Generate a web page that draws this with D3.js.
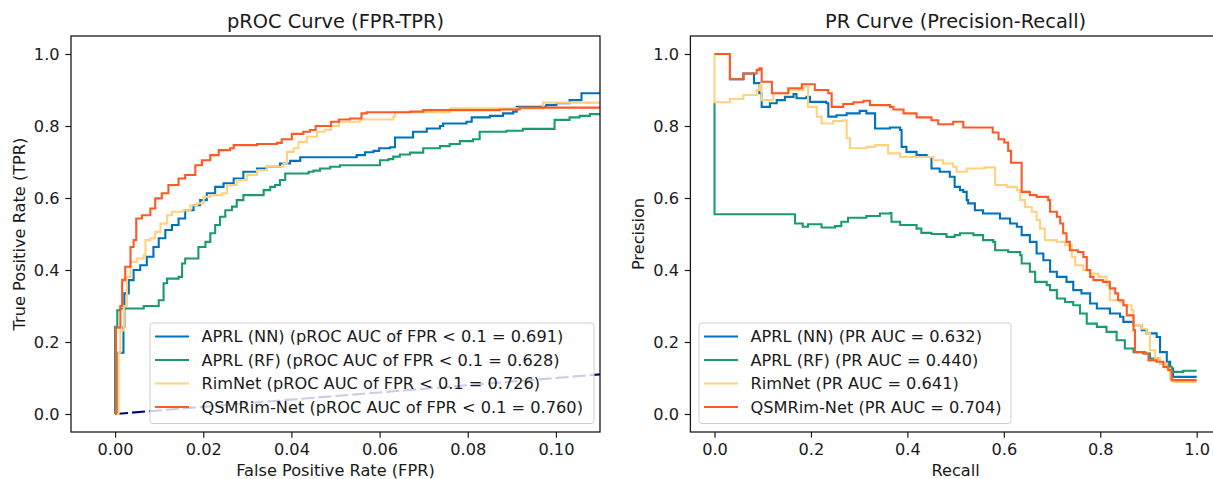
<!DOCTYPE html>
<html>
<head>
<meta charset="utf-8">
<script src="https://cdn.jsdelivr.net/npm/d3@7"></script>
<style>
  body { margin: 0; background: #fff; }
  svg { display: block; font-family: "DejaVu Sans", sans-serif; }
</style>
</head>
<body>
<div id="chart"></div>
<script>
// ---- data ----
var seriesNames = ["APRL (NN)", "APRL (RF)", "RimNet", "QSMRim-Net"];
var seriesColors = ["#0072BD", "#1B9A6C", "#FFD27F", "#FF5A26"];
var rocAuc = ["0.691", "0.628", "0.726", "0.760"];
var prAuc = ["0.632", "0.440", "0.641", "0.704"];

var rocTicksX = [0, 0.02, 0.04, 0.06, 0.08, 0.10];
var prTicksX = [0, 0.2, 0.4, 0.6, 0.8, 1.0];
var ticksY = [0, 0.2, 0.4, 0.6, 0.8, 1.0];

// pROC curves, [fpr, tpr]
var rocNN = [[0,0],[0.0004,0.17],[0.0019,0.242],[0.0021,0.335],[0.0031,0.372],[0.0042,0.40],[0.0057,0.413],[0.0072,0.437],[0.0087,0.464],[0.0099,0.488],[0.0114,0.511],[0.0129,0.525],[0.0144,0.543],[0.0159,0.566],[0.0178,0.580],[0.0193,0.594],[0.0208,0.613],[0.0227,0.631],[0.0246,0.641],[0.0269,0.654],[0.0291,0.673],[0.0322,0.682],[0.0344,0.687],[0.0374,0.696],[0.0397,0.703],[0.0420,0.713],[0.0548,0.719],[0.0567,0.727],[0.0586,0.731],[0.0599,0.738],[0.0624,0.741],[0.0635,0.768],[0.0676,0.784],[0.0707,0.793],[0.0737,0.80],[0.0744,0.807],[0.0797,0.812],[0.0809,0.824],[0.0850,0.828],[0.0880,0.835],[0.0903,0.840],[0.0911,0.853],[0.0978,0.858],[0.1001,0.863],[0.1031,0.872],[0.1058,0.891],[0.110,0.895]];
var rocRF = [[0,0],[0,0.242],[0.0005,0.288],[0.0012,0.293],[0.0065,0.30],[0.0099,0.316],[0.0110,0.363],[0.0118,0.376],[0.0144,0.381],[0.0152,0.418],[0.0159,0.432],[0.0189,0.464],[0.0205,0.478],[0.0216,0.502],[0.0227,0.525],[0.0238,0.548],[0.0250,0.566],[0.0265,0.576],[0.0276,0.594],[0.0291,0.608],[0.0337,0.622],[0.0352,0.631],[0.0363,0.636],[0.0374,0.650],[0.0386,0.668],[0.0439,0.673],[0.0450,0.676],[0.0465,0.682],[0.0488,0.687],[0.0510,0.691],[0.0601,0.705],[0.0620,0.708],[0.0631,0.715],[0.0646,0.721],[0.0669,0.726],[0.0699,0.738],[0.0737,0.744],[0.0759,0.750],[0.0782,0.758],[0.0812,0.763],[0.0827,0.784],[0.0888,0.787],[0.0925,0.792],[0.0997,0.817],[0.1031,0.824],[0.1054,0.828],[0.1077,0.833],[0.110,0.833]];
var rocRim = [[0,0],[0.0008,0.172],[0.0012,0.232],[0.0020,0.30],[0.0027,0.381],[0.0035,0.423],[0.0050,0.432],[0.0065,0.441],[0.0069,0.483],[0.0080,0.488],[0.0091,0.506],[0.0103,0.529],[0.0118,0.552],[0.0129,0.562],[0.0155,0.566],[0.0171,0.580],[0.0186,0.585],[0.0201,0.603],[0.0216,0.608],[0.0242,0.613],[0.0254,0.636],[0.0276,0.650],[0.0299,0.664],[0.0322,0.677],[0.0344,0.687],[0.0382,0.696],[0.0390,0.728],[0.0405,0.738],[0.0416,0.756],[0.0435,0.770],[0.0458,0.784],[0.0476,0.789],[0.0490,0.800],[0.0508,0.812],[0.0556,0.818],[0.0631,0.826],[0.0635,0.838],[0.0760,0.849],[0.0971,0.865],[0.110,0.867]];
var rocQSM = [[0,0],[0.0002,0.24],[0.0012,0.30],[0.0016,0.372],[0.0023,0.409],[0.0035,0.464],[0.0042,0.483],[0.0048,0.543],[0.0061,0.552],[0.0080,0.571],[0.0091,0.599],[0.0106,0.613],[0.0121,0.636],[0.0144,0.654],[0.0159,0.664],[0.0182,0.691],[0.0197,0.705],[0.0216,0.719],[0.0235,0.733],[0.0261,0.738],[0.0269,0.747],[0.0322,0.750],[0.0367,0.753],[0.0378,0.763],[0.0401,0.778],[0.0427,0.784],[0.0442,0.789],[0.0455,0.800],[0.0490,0.812],[0.0508,0.818],[0.0533,0.821],[0.0559,0.835],[0.0571,0.838],[0.0669,0.840],[0.0699,0.844],[0.0873,0.846],[0.0918,0.851],[0.110,0.853]];
var chanceLine = [[0,0],[1,1]];

// PR curves, [recall, precision]
var prNN = [[0,1.0],[0.032,0.93],[0.060,0.946],[0.082,0.919],[0.093,0.891],[0.0978,0.853],[0.115,0.863],[0.129,0.872],[0.146,0.881],[0.164,0.889],[0.170,0.877],[0.191,0.881],[0.198,0.867],[0.232,0.863],[0.236,0.826],[0.253,0.830],[0.274,0.835],[0.301,0.842],[0.315,0.835],[0.333,0.793],[0.364,0.796],[0.385,0.789],[0.388,0.742],[0.398,0.728],[0.419,0.719],[0.440,0.714],[0.450,0.682],[0.467,0.673],[0.488,0.659],[0.498,0.631],[0.509,0.622],[0.516,0.617],[0.523,0.594],[0.526,0.585],[0.540,0.566],[0.557,0.557],[0.592,0.543],[0.613,0.529],[0.627,0.520],[0.637,0.497],[0.654,0.478],[0.668,0.446],[0.682,0.427],[0.696,0.395],[0.710,0.381],[0.730,0.367],[0.744,0.344],[0.761,0.335],[0.779,0.307],[0.793,0.293],[0.820,0.279],[0.841,0.270],[0.848,0.256],[0.869,0.247],[0.886,0.233],[0.896,0.224],[0.917,0.214],[0.924,0.172],[0.938,0.145],[0.945,0.126],[0.951,0.103],[1.0,0.103]];
var prRF = [[0,0.865],[0,0.555],[0.167,0.529],[0.183,0.520],[0.194,0.527],[0.222,0.518],[0.250,0.522],[0.263,0.534],[0.277,0.545],[0.315,0.550],[0.343,0.557],[0.364,0.558],[0.367,0.534],[0.385,0.525],[0.419,0.515],[0.429,0.503],[0.450,0.50],[0.481,0.492],[0.498,0.497],[0.509,0.502],[0.537,0.497],[0.557,0.483],[0.578,0.478],[0.582,0.455],[0.609,0.450],[0.634,0.441],[0.637,0.418],[0.654,0.395],[0.665,0.367],[0.689,0.358],[0.696,0.344],[0.710,0.321],[0.727,0.311],[0.744,0.302],[0.758,0.279],[0.772,0.251],[0.793,0.242],[0.813,0.228],[0.834,0.205],[0.851,0.182],[0.869,0.172],[0.889,0.168],[0.903,0.154],[0.924,0.140],[0.941,0.131],[0.948,0.117],[0.972,0.120],[1.0,0.120]];
var prRim = [[0,1.0],[0,0.866],[0.032,0.875],[0.0598,0.886],[0.0874,0.90],[0.093,0.914],[0.0978,0.872],[0.122,0.891],[0.153,0.90],[0.184,0.909],[0.194,0.853],[0.212,0.826],[0.222,0.807],[0.246,0.814],[0.267,0.816],[0.274,0.766],[0.281,0.738],[0.315,0.742],[0.333,0.747],[0.360,0.724],[0.385,0.714],[0.454,0.705],[0.474,0.696],[0.495,0.687],[0.502,0.673],[0.523,0.682],[0.560,0.685],[0.582,0.636],[0.606,0.631],[0.627,0.622],[0.634,0.594],[0.644,0.575],[0.658,0.562],[0.668,0.539],[0.675,0.515],[0.685,0.483],[0.710,0.478],[0.727,0.469],[0.741,0.436],[0.748,0.413],[0.765,0.40],[0.779,0.390],[0.796,0.381],[0.813,0.358],[0.820,0.316],[0.841,0.311],[0.848,0.302],[0.865,0.288],[0.869,0.247],[0.886,0.237],[0.896,0.224],[0.903,0.177],[0.914,0.154],[0.924,0.140],[0.938,0.126],[0.945,0.098],[0.951,0.089],[1.0,0.089]];
var prQSM = [[0,1.0],[0.032,0.93],[0.060,0.946],[0.0875,0.956],[0.093,0.96],[0.0978,0.923],[0.119,0.891],[0.153,0.905],[0.181,0.916],[0.208,0.90],[0.236,0.891],[0.243,0.853],[0.267,0.861],[0.288,0.866],[0.309,0.870],[0.3225,0.858],[0.364,0.853],[0.371,0.846],[0.392,0.835],[0.419,0.824],[0.450,0.816],[0.464,0.805],[0.495,0.812],[0.516,0.796],[0.577,0.782],[0.589,0.763],[0.601,0.754],[0.609,0.731],[0.615,0.698],[0.637,0.617],[0.654,0.608],[0.668,0.603],[0.692,0.594],[0.696,0.562],[0.710,0.548],[0.717,0.529],[0.723,0.502],[0.730,0.478],[0.737,0.455],[0.754,0.450],[0.765,0.436],[0.772,0.40],[0.779,0.381],[0.786,0.372],[0.806,0.367],[0.820,0.349],[0.831,0.335],[0.837,0.316],[0.848,0.302],[0.855,0.274],[0.869,0.233],[0.872,0.172],[0.893,0.168],[0.90,0.149],[0.917,0.145],[0.931,0.131],[0.941,0.122],[0.948,0.094],[1.0,0.094]];

var rocSeries = [rocNN, rocRF, rocRim, rocQSM];
var prSeries = [prNN, prRF, prRim, prQSM];

// ---- layout ----
var width = 1213, height = 479;
var FS = 16.2, TFS = 19.4;
var tickLen = 5.7, tickPad = 5.7;

var svg = d3.select("#chart").append("svg")
    .attr("width", width)
    .attr("height", height);

var yScale = d3.scaleLinear().domain([-0.05, 1.05]).range([432, 36]);
var xRoc = d3.scaleLinear().domain([-0.01, 0.11]).range([71, 600]);
var xPr = d3.scaleLinear().domain([-0.05, 1.05]).range([690.4, 1220.8]);

function addText(g, x, y, str, size, anchor) {
  return g.append("text")
      .attr("x", x).attr("y", y)
      .attr("text-anchor", anchor || "middle")
      .attr("font-size", size)
      .attr("fill", "#1a1a1a")
      .text(str);
}

function drawPanel(opts) {
  var x = opts.x, y = yScale;
  var x0 = x.range()[0], x1 = x.range()[1];
  var g = svg.append("g");

  var clipId = "clip-" + opts.id;
  svg.append("clipPath").attr("id", clipId)
    .append("rect")
      .attr("x", x0).attr("y", 36)
      .attr("width", x1 - x0).attr("height", 432 - 36);

  var plot = g.append("g").attr("clip-path", "url(#" + clipId + ")");

  if (opts.chance) {
    plot.append("path")
        .datum(opts.chance)
        .attr("d", d3.line().x(function(d) { return x(d[0]); }).y(function(d) { return y(d[1]); }))
        .attr("fill", "none")
        .attr("stroke", "#000080")
        .attr("stroke-width", 2.1)
        .attr("stroke-dasharray", "13,4");
  }

  var line = d3.line()
      .x(function(d) { return x(d[0]); })
      .y(function(d) { return y(d[1]); })
      .curve(d3.curveStepAfter);

  opts.series.forEach(function(s, i) {
    plot.append("path")
        .datum(s)
        .attr("d", line)
        .attr("fill", "none")
        .attr("stroke", seriesColors[i])
        .attr("stroke-width", 2.1);
  });

  // axes
  var xAxis = d3.axisBottom(x).tickValues(opts.xTicks).tickFormat(d3.format(opts.xFmt))
      .tickSize(tickLen).tickPadding(tickPad);
  var gx = g.append("g").attr("transform", "translate(0,432)").call(xAxis);
  var yAxis = d3.axisLeft(y).tickValues(ticksY).tickFormat(d3.format(".1f"))
      .tickSize(tickLen).tickPadding(tickPad);
  var gy = g.append("g").attr("transform", "translate(" + x0 + ",0)").call(yAxis);

  [gx, gy].forEach(function(a) {
    a.select(".domain").remove();
    a.selectAll(".tick line").attr("stroke", "#1a1a1a").attr("stroke-width", 1.2);
    a.selectAll(".tick text")
        .attr("font-family", "DejaVu Sans")
        .attr("font-size", FS)
        .attr("fill", "#1a1a1a");
  });

  // frame
  g.append("rect")
      .attr("x", x0).attr("y", 36)
      .attr("width", x1 - x0).attr("height", 432 - 36)
      .attr("fill", "none")
      .attr("stroke", "#1a1a1a")
      .attr("stroke-width", 1.3);

  // legend
  var lg = g.append("g");
  lg.append("rect")
      .attr("x", opts.legend.x).attr("y", 323)
      .attr("width", opts.legend.w).attr("height", 100.5)
      .attr("rx", 3)
      .attr("fill", "#fff").attr("fill-opacity", 0.8)
      .attr("stroke", "#cfcfcf").attr("stroke-width", 1);
  opts.labels.forEach(function(lbl, i) {
    var cy = 336.5 + i * 23.5;
    lg.append("line")
        .attr("x1", opts.legend.x + 5).attr("x2", opts.legend.x + 39)
        .attr("y1", cy).attr("y2", cy)
        .attr("stroke", seriesColors[i]).attr("stroke-width", 2.1);
    addText(lg, opts.legend.x + 51.5, cy + 5.8, lbl, FS, "start");
  });

  // titles and labels
  var cx = (x0 + x1) / 2;
  addText(g, cx, 27.5, opts.title, TFS);
  addText(g, cx, 475.5, opts.xLabel, FS);
  g.append("text")
      .attr("transform", "translate(" + opts.yLabelX + ",234) rotate(-90)")
      .attr("text-anchor", "middle")
      .attr("font-size", FS)
      .attr("fill", "#1a1a1a")
      .text(opts.yLabel);
}

drawPanel({
  id: "roc",
  x: xRoc,
  series: rocSeries,
  chance: chanceLine,
  xTicks: rocTicksX,
  xFmt: ".2f",
  title: "pROC Curve (FPR-TPR)",
  xLabel: "False Positive Rate (FPR)",
  yLabel: "True Positive Rate (TPR)",
  yLabelX: 25,
  legend: { x: 150, w: 444 },
  labels: seriesNames.map(function(n, i) { return n + " (pROC AUC of FPR < 0.1 = " + rocAuc[i] + ")"; })
});

drawPanel({
  id: "pr",
  x: xPr,
  series: prSeries,
  xTicks: prTicksX,
  xFmt: ".1f",
  title: "PR Curve (Precision-Recall)",
  xLabel: "Recall",
  yLabel: "Precision",
  yLabelX: 644,
  legend: { x: 699, w: 312 },
  labels: seriesNames.map(function(n, i) { return n + " (PR AUC = " + prAuc[i] + ")"; })
});
</script>
</body>
</html>
